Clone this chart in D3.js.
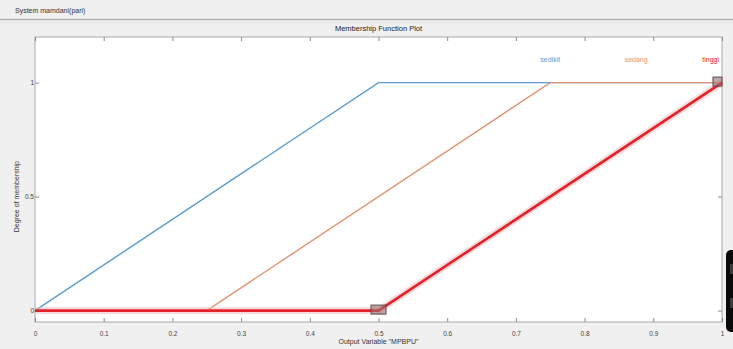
<!DOCTYPE html>
<html>
<head>
<meta charset="utf-8">
<script src="https://cdn.jsdelivr.net/npm/d3@7"></script>
<style>
  html, body { margin: 0; padding: 0; background: #f0f0f0; }
  svg { display: block; font-family: "Liberation Sans", Arial, sans-serif; }
</style>
</head>
<body>
<svg id="chart" width="733" height="349"></svg>
<script>
// Membership functions of the output variable (x breakpoints, membership values)
const mfNames = ["sedikit", "sedang", "tinggi"];
const mfColors = ["#5a9bd0", "#e39373", "#e3232c"];
const sedikitX = [0, 0.5, 1];
const sedikitY = [0, 1, 1];
const sedangX = [0.25, 0.75, 1];
const sedangY = [0, 1, 1];
const tinggiX = [0, 0.5, 1];
const tinggiY = [0, 0, 1];
const selectedMf = 2;
// square handles on the selected function's breakpoints
const handleX = [0.5, 1];
const handleY = [0, 1];

const xTicks = [0, 0.1, 0.2, 0.3, 0.4, 0.5, 0.6, 0.7, 0.8, 0.9, 1];
const yTicks = [0, 0.5, 1];
const systemLabel = "System mamdani(pari)";
const panelTitle = "Membership Function Plot";
const xLabel = "Output Variable \"MPBPU\"";
const yLabel = "Degree of membership";

const svg = d3.select("#chart");
const W = 733, H = 349;
const mLeft = 35, mRight = 722, mTop = 37, mBottom = 322;

// window chrome
svg.append("rect").attr("width", W).attr("height", H).attr("fill", "#f0f0f0");
svg.append("text").attr("x", 15).attr("y", 13).attr("font-size", 7)
  .attr("fill", "#333").text(systemLabel);
svg.append("line").attr("x1", 0).attr("x2", W).attr("y1", 19.5).attr("y2", 19.5)
  .attr("stroke", "#b4b4b4").attr("stroke-width", 1.5);
svg.append("line").attr("x1", 0).attr("x2", W).attr("y1", 22.5).attr("y2", 22.5)
  .attr("stroke", "#e4e4e4");
svg.append("text").attr("x", (mLeft + mRight) / 2).attr("y", 31).attr("font-size", 7.5)
  .attr("text-anchor", "middle").attr("fill", "#222").text(panelTitle);

const x = d3.scaleLinear().domain([0, 1]).range([mLeft, mRight]);
const y = d3.scaleLinear().domain([-0.05, 1.2]).range([mBottom, mTop]);

// plot area
svg.append("rect").attr("x", mLeft).attr("y", mTop)
  .attr("width", mRight - mLeft).attr("height", mBottom - mTop)
  .attr("fill", "#ffffff").attr("stroke", "#a8a8a8").attr("stroke-width", 1);

// axes with ticks on all four sides
const axisStyle = g => {
  g.selectAll(".domain").remove();
  g.selectAll("line").attr("stroke", "#8a8a8a");
  g.selectAll("text").attr("fill", "#444").attr("font-size", 6.5);
};
svg.append("g").attr("transform", `translate(0,${mBottom})`)
  .call(d3.axisBottom(x).tickValues(xTicks).tickSize(-4).tickPadding(9)
    .tickFormat(d3.format("~g")))
  .call(axisStyle);
svg.append("g").attr("transform", `translate(0,${mTop})`)
  .call(d3.axisTop(x).tickValues(xTicks).tickSize(-4).tickFormat(""))
  .call(axisStyle);
svg.append("g").attr("transform", `translate(${mLeft},0)`)
  .call(d3.axisLeft(y).tickValues(yTicks).tickSize(-4).tickPadding(1)
    .tickFormat(d3.format("~g")))
  .call(axisStyle);
svg.append("g").attr("transform", `translate(${mRight},0)`)
  .call(d3.axisRight(y).tickValues(yTicks).tickSize(-4).tickFormat(""))
  .call(axisStyle);

svg.append("text").attr("x", (mLeft + mRight) / 2).attr("y", 344)
  .attr("text-anchor", "middle").attr("font-size", 7).attr("fill", "#333").text(xLabel);
svg.append("text").attr("transform", `translate(19,${(y(0) + y(1)) / 2}) rotate(-90)`)
  .attr("text-anchor", "middle").attr("font-size", 7).attr("fill", "#333").text(yLabel);

// membership curves
const mfX = [sedikitX, sedangX, tinggiX];
const mfY = [sedikitY, sedangY, tinggiY];
const line = d3.line().x(d => x(d[0])).y(d => y(d[1]));
[0, 1, 2].forEach(i => {
  const pts = mfX[i].map((v, k) => [v, mfY[i][k]]);
  const sel = i === selectedMf;
  if (sel) {
    svg.append("path").attr("d", line(pts)).attr("fill", "none")
      .attr("stroke", "#f4b8bb").attr("stroke-width", 7).attr("opacity", 0.5);
  }
  svg.append("path").attr("d", line(pts)).attr("fill", "none")
    .attr("stroke", mfColors[i]).attr("stroke-width", sel ? 2.6 : 1.4);
});

// handles on the selected curve
handleX.forEach((hx, k) => {
  const s = 9;
  const wide = hx < 1;
  svg.append("rect")
    .attr("x", wide ? x(hx) - s / 2 - 3 : x(hx) - s)
    .attr("y", y(handleY[k]) - s / 2 - 1)
    .attr("width", wide ? s + 6 : s).attr("height", s)
    .attr("fill", "#9a6a6c").attr("fill-opacity", 0.6)
    .attr("stroke", "#5a4a4a").attr("stroke-width", 1);
});

// labels centred over each function's plateau
mfNames.forEach((name, i) => {
  const xs = mfX[i].filter((v, k) => mfY[i][k] === 1);
  const cx = d3.mean(xs);
  const t = svg.append("text").attr("y", y(1.1) + 2).attr("font-size", 7)
    .attr("text-anchor", "middle").attr("fill", mfColors[i]).text(name);
  const w = t.node().getComputedTextLength();
  t.attr("x", Math.min(x(cx), mRight - w / 2 - 3));
});

// partially visible control at the right window edge
svg.append("rect").attr("x", 726).attr("y", 250).attr("width", 20).attr("height", 82)
  .attr("rx", 5).attr("fill", "#0a0a0a");
svg.append("rect").attr("x", 730).attr("y", 264).attr("width", 4).attr("height", 10)
  .attr("fill", "#3a3a3a");
svg.append("rect").attr("x", 730).attr("y", 298).attr("width", 4).attr("height", 10)
  .attr("fill", "#3a3a3a");
</script>
</body>
</html>
